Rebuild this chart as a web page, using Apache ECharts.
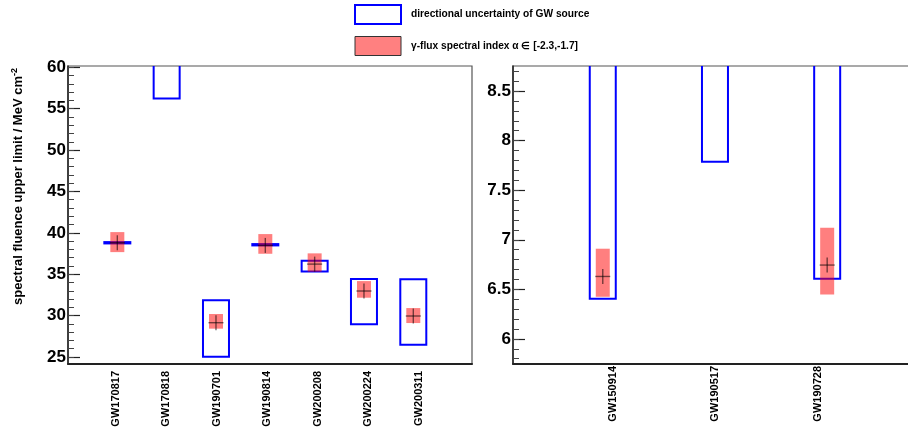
<!DOCTYPE html>
<html>
<head>
<meta charset="utf-8">
<script src="https://cdn.jsdelivr.net/npm/echarts@6/dist/echarts.min.js"></script>
<style>html,body{margin:0;padding:0;background:#fff;}#c{width:908px;height:430px;}</style>
</head>
<body>
<div id="c"></div>
<script>
// ---------- data ----------
const leftEvents   = ['GW170817','GW170818','GW190701','GW190814','GW200208','GW200224','GW200311'];
const leftDirLow   = [38.72, 56.22, 25.04, 38.48, 35.34, 28.95, 26.48];
const leftDirHigh  = [38.88, 65.0, 31.84, 38.64, 36.62, 34.41, 34.38];
const leftIdxLow   = [37.67, null, 28.42, 37.47, 35.30, 32.16, 29.10];
const leftIdxHigh  = [40.09, null, 30.19, 39.85, 37.52, 34.17, 30.91];
const leftFluence  = [38.80, null, 29.14, 38.48, 36.22, 32.97, 29.95];

const rightEvents  = ['GW150914','GW190517','GW190728'];
const rightDirLow  = [6.404, 7.787, 6.607];
const rightDirHigh = [9.5, 9.5, 9.5];
const rightIdxLow  = [6.425, null, 6.448];
const rightIdxHigh = [6.910, null, 7.122];
const rightFluence = [6.630, null, 6.745];

const leftMajorTicks  = [25, 30, 35, 40, 45, 50, 55, 60];
const leftMinorTicks  = [25,26,27,28,29,30,31,32,33,34,35,36,37,38,39,40,41,42,43,44,45,46,47,48,49,50,51,52,53,54,55,56,57,58,59,60];
const rightMajorTicks = [6, 6.5, 7, 7.5, 8, 8.5];
const rightMinorTicks = [5.8,5.9,6.0,6.1,6.2,6.3,6.4,6.5,6.6,6.7,6.8,6.9,7.0,7.1,7.2,7.3,7.4,7.5,7.6,7.7,7.8,7.9,8.0,8.1,8.2,8.3,8.4,8.5,8.6,8.7];

const dirName = 'directional uncertainty of GW source';
const idxName = 'γ-flux spectral index α ∈ [-2.3,-1.7]';

// ---------- styles ----------
const F = 'Liberation Sans, Arial, Helvetica, sans-serif';
const BLUE_W = 26, RED_W = 14, CROSS = 15;

function renderDir(params, api) {
  const x = api.value(0), lo = api.value(1), hi = api.value(2);
  const a = api.coord([x, lo]), b = api.coord([x, hi]);
  return {type:'rect', shape:{x:a[0]-BLUE_W/2, y:b[1], width:BLUE_W, height:a[1]-b[1]},
          style:{fill:'none', stroke:'#0000ff', lineWidth:2}};
}
function renderIdx(params, api) {
  const x = api.value(0), lo = api.value(1), hi = api.value(2);
  const a = api.coord([x, lo]), b = api.coord([x, hi]);
  return {type:'rect', shape:{x:a[0]-RED_W/2, y:b[1], width:RED_W, height:a[1]-b[1]},
          style:{fill:'rgba(255,0,0,0.5)'}};
}
function renderMark(params, api) {
  const p = api.coord([api.value(0), api.value(1)]);
  const h = CROSS/2;
  const st = {stroke:'rgba(0,0,0,0.55)', lineWidth:1.4};
  return {type:'group', children:[
    {type:'line', shape:{x1:p[0]-h, y1:p[1], x2:p[0]+h, y2:p[1]}, style:st},
    {type:'line', shape:{x1:p[0], y1:p[1]-h, x2:p[0], y2:p[1]+h}, style:st}
  ]};
}
function boxes(low, high) {
  const out = [];
  low.forEach((v, i) => { if (v != null && high[i] != null) out.push([i+1, v, high[i]]); });
  return out;
}
function points(vals) {
  const out = [];
  vals.forEach((v, i) => { if (v != null) out.push([i+1, v]); });
  return out;
}

const labelFont = {fontFamily:F, fontWeight:'bold', color:'#000'};
function yAxes(grid, min, max, major, minor) {
  return [
    {gridIndex:grid, type:'value', min:min, max:max, position:'left',
     axisLine:{show:true, lineStyle:{color:'#222', width:1.5}},
     axisTick:{show:true, inside:true, length:12, customValues:major, lineStyle:{color:'#222', width:1.2}},
     axisLabel:Object.assign({customValues:major, margin:2, fontSize:17}, labelFont),
     splitLine:{show:false}},
    {gridIndex:grid, type:'value', min:min, max:max, position:'left',
     axisLine:{show:false},
     axisTick:{show:true, inside:true, length:6, customValues:minor, lineStyle:{color:'#444', width:1}},
     axisLabel:{show:false}, splitLine:{show:false}}
  ];
}
function labelAxis(grid, names, max, margin) {
  return {gridIndex:grid, type:'value', min:0, max:max, position:'bottom',
    axisLine:{show:true, onZero:false, lineStyle:{color:'#222', width:2}},
    axisTick:{show:false}, splitLine:{show:false},
    axisLabel:Object.assign({customValues:names.map((n,i)=>i+1), rotate:90, margin:margin, fontSize:11,
      verticalAlign:'bottom', lineHeight:6, formatter:(v)=>names[Math.round(v)-1] || ''}, labelFont)};
}

const chart = echarts.init(document.getElementById('c'), null, {renderer:'canvas'});
chart.setOption({
  animation:false,
  backgroundColor:'#fff',
  legend:{orient:'vertical', left:354, top:4, padding:0, itemWidth:46, itemHeight:19, itemGap:11, selectedMode:false,
    textStyle:{fontFamily:F, fontWeight:'bold', fontSize:10.2, color:'#000', padding:[0,0,0,5]},
    data:[
      {name:dirName, icon:'rect', itemStyle:{color:'#fff', borderColor:'#0000ff', borderWidth:2}},
      {name:idxName, icon:'rect', itemStyle:{color:'#ff8080', borderColor:'#333', borderWidth:1}}
    ]},
  grid:[
    {left:68, top:66, width:404, height:298, show:true, borderColor:'#555', borderWidth:1.2, outerBoundsMode:'none'},
    {left:513, top:66, width:410, height:298, show:true, borderColor:'#555', borderWidth:1.2, outerBoundsMode:'none'}
  ],
  xAxis:[
    labelAxis(0, leftEvents, 8, 7),
    {gridIndex:0, type:'value', min:0, max:8.19, show:false},
    labelAxis(1, rightEvents, 4, 2),
    {gridIndex:1, type:'value', min:0.2, max:3.854, show:false}
  ],
  yAxis:[].concat(
    yAxes(0, 24.15, 60.16, leftMajorTicks, leftMinorTicks),
    yAxes(1, 5.747, 8.753, rightMajorTicks, rightMinorTicks)
  ),
  graphic:[{
    type:'text', x:18.5, y:68, rotation:Math.PI/2,
    style:{text:'{m|spectral fluence upper limit / MeV cm}{s|-2}', align:'right', verticalAlign:'middle', fill:'#000',
      rich:{m:{fontFamily:F, fontWeight:'bold', fontSize:13, lineHeight:17},
            s:{fontFamily:F, fontWeight:'bold', fontSize:9, lineHeight:9, verticalAlign:'top'}}}
  }],
  series:[
    {type:'custom', name:dirName, xAxisIndex:1, yAxisIndex:0, clip:true, z:2, itemStyle:{color:'#0000ff'},
     renderItem:renderDir, data:boxes(leftDirLow, leftDirHigh)},
    {type:'custom', name:idxName, xAxisIndex:1, yAxisIndex:0, clip:true, z:3, itemStyle:{color:'#ff8080'},
     renderItem:renderIdx, data:boxes(leftIdxLow, leftIdxHigh)},
    {type:'custom', name:'fluence', xAxisIndex:1, yAxisIndex:0, clip:true, z:4,
     renderItem:renderMark, data:points(leftFluence)},
    {type:'custom', name:dirName, xAxisIndex:3, yAxisIndex:2, clip:true, z:2, itemStyle:{color:'#0000ff'},
     renderItem:renderDir, data:boxes(rightDirLow, rightDirHigh)},
    {type:'custom', name:idxName, xAxisIndex:3, yAxisIndex:2, clip:true, z:3, itemStyle:{color:'#ff8080'},
     renderItem:renderIdx, data:boxes(rightIdxLow, rightIdxHigh)},
    {type:'custom', name:'fluence', xAxisIndex:3, yAxisIndex:2, clip:true, z:4,
     renderItem:renderMark, data:points(rightFluence)}
  ]
});
</script>
</body>
</html>
